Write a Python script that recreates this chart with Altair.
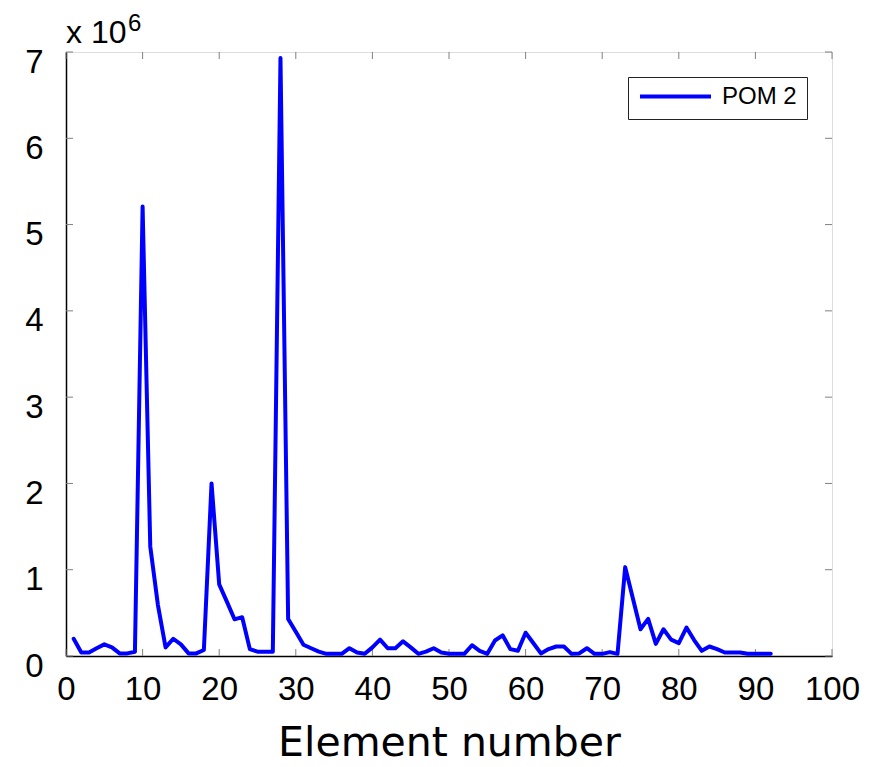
import altair as alt
import pandas as pd

elements = list(range(1, 93))
values_e6 = [
    0.20, 0.04, 0.04, 0.09, 0.135, 0.10, 0.03, 0.03, 0.05, 5.21,
    1.27, 0.59, 0.10, 0.20, 0.135, 0.03, 0.03, 0.07, 2.00, 0.83,
    0.63, 0.425, 0.45, 0.08, 0.05, 0.05, 0.05, 6.93, 0.43, 0.28,
    0.13, 0.09, 0.05, 0.025, 0.025, 0.025, 0.09, 0.04, 0.025, 0.10,
    0.19, 0.09, 0.09, 0.17, 0.10, 0.025, 0.05, 0.09, 0.04, 0.025,
    0.025, 0.025, 0.125, 0.06, 0.025, 0.18, 0.24, 0.08, 0.06, 0.27,
    0.15, 0.03, 0.08, 0.11, 0.11, 0.025, 0.03, 0.09, 0.025, 0.025,
    0.045, 0.025, 1.03, 0.67, 0.31, 0.43, 0.14, 0.31, 0.19, 0.15,
    0.33, 0.185, 0.06, 0.11, 0.08, 0.04, 0.04, 0.04, 0.025, 0.025,
    0.025, 0.025,
]
series_name = "POM 2"
x_ticks = list(range(0, 101, 10))
y_ticks = [i * 1e6 for i in range(0, 8)]

W, H = 766, 604
TICK = 7
GREY = "#808080"

df = pd.DataFrame({
    "x": elements,
    "y": [v * 1e6 for v in values_e6],
    "series": series_name,
})
dfx = pd.DataFrame({"x": x_ticks})
dfy = pd.DataFrame({"y": y_ticks})

xscale = alt.Scale(domain=[0, 100], nice=False, zero=False)
yscale = alt.Scale(domain=[0, 7e6], nice=False)

xaxis = alt.Axis(
    values=x_ticks, title="Element number", grid=False, ticks=False,
    labelFontSize=33, labelFont="Liberation Sans", labelColor="#000",
    labelPadding=17, labelFlush=False, domainColor="#000", domainWidth=1.5,
    titleFont="DejaVu Sans", titleFontSize=41, titleFontWeight="normal",
    titleColor="#000", titlePadding=17)
yaxis = alt.Axis(
    values=y_ticks, title=None, grid=False, ticks=False,
    labelExpr="format(datum.value / 1e6, 'd')",
    labelFontSize=33, labelFont="Liberation Sans", labelColor="#000",
    labelPadding=23, labelOffset=10, labelFlush=False,
    domainColor="#000", domainWidth=1.5)

line = alt.Chart(df).mark_line(strokeWidth=4, strokeJoin="round", strokeCap="round").encode(
    x=alt.X("x:Q", scale=xscale, axis=xaxis),
    y=alt.Y("y:Q", scale=yscale, axis=yaxis),
    color=alt.Color("series:N", scale=alt.Scale(range=["#0000ff"]), legend=alt.Legend(
        title=None, orient="top-right", offset=25, symbolType="M-1,0H1",
        symbolStrokeWidth=4, symbolSize=5041, labelFontSize=24, clipHeight=19,
        labelFont="Liberation Sans", labelColor="#000", strokeColor="#222",
        fillColor="#ffffff", padding=10, labelOffset=9)),
)

tick_bottom = alt.Chart(dfx).mark_rule(color=GREY, strokeWidth=1).encode(
    x=alt.X("x:Q", scale=xscale, axis=xaxis), y=alt.value(H), y2=alt.value(H - TICK))
tick_top = alt.Chart(dfx).mark_rule(color=GREY, strokeWidth=1).encode(
    x=alt.X("x:Q", scale=xscale, axis=xaxis), y=alt.value(0), y2=alt.value(TICK))
tick_left = alt.Chart(dfy).mark_rule(color=GREY, strokeWidth=1).encode(
    y=alt.Y("y:Q", scale=yscale, axis=yaxis), x=alt.value(0), x2=alt.value(TICK))
tick_right = alt.Chart(dfy).mark_rule(color=GREY, strokeWidth=1).encode(
    y=alt.Y("y:Q", scale=yscale, axis=yaxis), x=alt.value(W), x2=alt.value(W - TICK))

exp_base = alt.Chart(pd.DataFrame({"t": ["x 10"]})).mark_text(
    align="left", baseline="alphabetic", fontSize=32, font="Liberation Sans", color="#000"
).encode(text="t:N", x=alt.value(0), y=alt.value(-9))
exp_sup = alt.Chart(pd.DataFrame({"t": ["6"]})).mark_text(
    align="left", baseline="alphabetic", fontSize=24, font="Liberation Sans", color="#000"
).encode(text="t:N", x=alt.value(62), y=alt.value(-21))

chart = alt.layer(tick_bottom, tick_top, tick_left, tick_right, line, exp_base, exp_sup).properties(
    width=W, height=H,
    autosize=alt.AutoSizeParams(type="none"),
    padding={"left": 58, "top": 44, "right": 44, "bottom": 110},
).configure_view(stroke=GREY, strokeWidth=1).configure(background="white")

chart.save("out.html", embed_options={"renderer": "svg", "actions": False})
